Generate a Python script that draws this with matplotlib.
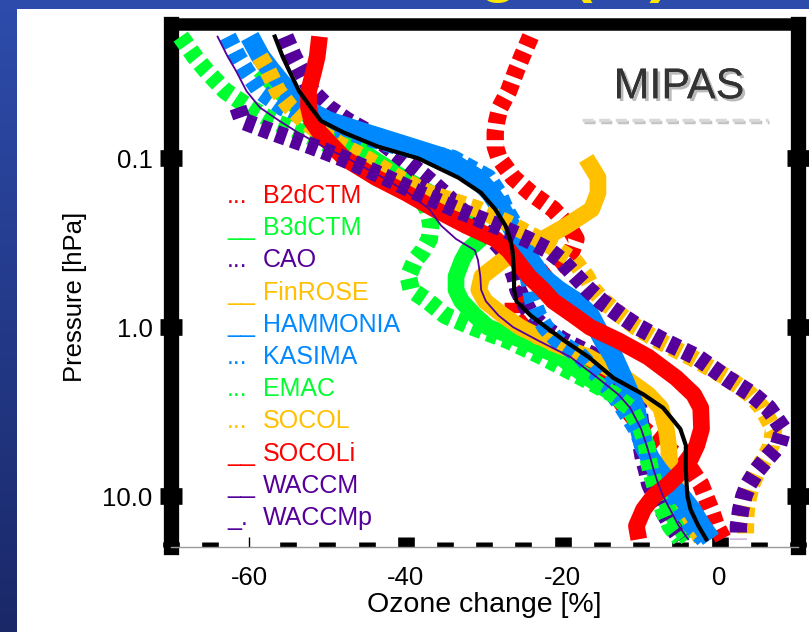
import numpy as np
import matplotlib
matplotlib.use("Agg")
import matplotlib.pyplot as plt
import matplotlib.patheffects as pe
from matplotlib.colors import LinearSegmentedColormap
from matplotlib.lines import Line2D
from matplotlib.patches import Rectangle
from matplotlib.ticker import MultipleLocator, NullLocator

SANS = ["Liberation Sans", "DejaVu Sans"]
plt.rcParams["font.family"] = SANS
plt.rcParams["axes.unicode_minus"] = False

RED, GREEN, PURPLE, GOLD, BLUE = "#ff0000", "#00ff2e", "#55009a", "#ffc000", "#0088ff"
nan = np.nan

pressure = [0.019, 0.025, 0.03, 0.04, 0.05, 0.06, 0.07, 0.085, 0.1, 0.13, 0.16,
            0.2, 0.25, 0.3, 0.35, 0.4, 0.5, 0.6, 0.7, 0.85, 1.0, 1.2, 1.5, 2.0,
            2.5, 3.0, 4.0, 5.0, 6.0, 7.0, 8.5, 10.0, 12.0, 15.0, 18.0]

# ozone change [%] per model
b2dctm = [-24.1, -25.2, -25.9, -26.9, -28.0, -28.4, -28.6, -28.6, -28.1, -26.3, -24.1,
          -21.2, -19.3, -18.3, -18.8, -19.9, -22.5, -24.6, -26.3, -26.3, -25.0, -22.5,
          -18.6, -14.8, -13.2, -12.0, -9.7, -7.2, -4.9, -3.6, -2.4, -1.8, -1.1, -0.4, 0.5]
b3dctm = [nan, nan, -58.6, -56.1, -53.8, -51.5, -49.3, -46.4, -44.2, -40.4, -36.9,
          -33.3, -31.0, -30.5, -32.1, -32.8, -33.6, -33.6, -32.9, -31.2, -29.5, -25.0,
          -20.3, -16.7, -13.5, -11.6, -10.0, -9.3, -8.8, -8.4, -7.8, -7.2, -6.4, -5.2, -4.0]
cao = [-55.4, -54.3, -53.4, -52.0, -49.9, -47.4, -44.8, -42.3, -40.4, -37.4, -35.2,
       -33.1, -30.8, -28.9, -27.6, -26.9, -26.1, -25.7, -25.0, -24.0, -22.5, -19.9,
       -15.7, -12.9, -11.2, -10.3, -10.0, -10.0, -9.7, -9.3, -8.9, -8.2, -7.3, -6.1, -4.9]
finrose = [nan, nan, nan, nan, nan, nan, nan, nan, -17.0, -15.5, -15.5,
           -16.3, -19.5, -22.5, -25.4, -27.6, -30.3, -30.7, -29.9, -27.6, -25.4, -22.1,
           -16.7, -12.0, -9.1, -7.5, -6.8, -6.5, -6.4, -6.1, -5.6, -5.0, -4.2, -3.3, -2.3]
hammonia = [-59.9, -58.5, -57.2, -55.0, -53.1, -49.9, -45.5, -39.7, -34.9, -31.0, -29.2,
            -27.8, -26.6, -25.7, -24.8, -24.1, -22.7, -20.6, -18.4, -16.5, -15.7, -14.8,
            -13.5, -12.3, -11.4, -10.7, -10.2, -9.7, -8.8, -7.8, -6.3, -4.9, -3.6, -2.3, -1.1]
kasima = [-62.7, -61.4, -60.4, -58.6, -55.7, -51.9, -47.4, -41.0, -34.0, -29.5, -28.2,
          -27.3, -26.1, -25.3, -24.8, -24.6, -24.4, -24.1, -23.8, -23.1, -22.2, -20.6,
          -17.6, -15.2, -13.5, -12.3, -10.6, -9.7, -8.8, -8.2, -7.2, -6.1, -5.0, -3.6, -2.0]
emac = [-68.7, -66.9, -65.5, -63.0, -59.9, -57.0, -53.4, -49.3, -45.8, -41.6, -38.7,
        -37.2, -36.8, -37.0, -37.8, -38.8, -39.7, -39.3, -37.2, -35.0, -31.4, -26.9,
        -22.5, -17.4, -13.5, -11.4, -10.0, -9.3, -9.1, -8.8, -8.3, -7.8, -7.2, -6.3, -5.0]
socol = [nan, -58.6, -57.6, -56.3, -54.7, -52.9, -51.0, -48.0, -45.1, -41.0, -37.2,
         -30.8, -26.3, -23.1, -20.6, -18.6, -17.0, -16.1, -14.8, -12.6, -10.6, -7.8,
         -3.7, 1.1, 3.9, 5.4, 6.9, 6.6, 5.7, 4.9, 4.1, 3.7, 3.4, 3.3, 3.3]
socoli = [-51.0, -51.3, -51.7, -52.4, -52.4, -52.0, -51.0, -49.3, -47.8, -43.8, -40.0,
          -36.3, -32.3, -28.6, -26.9, -25.9, -24.3, -22.5, -21.2, -18.6, -16.5, -12.9,
          -9.1, -5.5, -3.3, -2.4, -2.3, -2.9, -3.7, -4.7, -6.5, -8.4, -9.7, -10.6, -10.3]
waccm = [-64.0, -62.7, -61.7, -60.3, -58.6, -56.1, -53.8, -50.6, -47.4, -42.9, -39.7,
         -37.0, -35.5, -33.6, -31.2, -30.8, -30.5, -30.4, -29.8, -28.2, -26.3, -23.1,
         -19.0, -15.5, -12.9, -11.4, -10.0, -9.3, -8.8, -8.4, -7.8, -7.2, -6.3, -5.2, -4.0]
waccmp = [nan, nan, nan, nan, -61.4, -60.8, -57.0, -51.9, -48.0, -42.5, -38.4,
          -33.6, -28.5, -24.6, -21.8, -20.2, -18.3, -16.7, -15.1, -12.6, -10.3, -7.2,
          -2.9, 0.9, 4.2, 6.2, 8.1, 7.5, 6.0, 4.8, 3.7, 3.1, 2.7, 2.4, 2.4]
mipas = [-56.7, -55.7, -54.9, -53.6, -52.1, -50.8, -48.0, -43.6, -38.4, -33.3, -30.4,
         -28.6, -27.3, -26.7, -26.4, -26.3, -26.2, -26.2, -25.9, -24.1, -22.1, -19.8,
         -16.7, -13.5, -9.7, -7.2, -5.0, -4.3, -4.3, -4.3, -4.2, -4.1, -3.7, -2.7, -1.7]

model_names = ["B2dCTM", "B3dCTM", "CAO", "FinROSE", "HAMMONIA", "KASIMA",
               "EMAC", "SOCOL", "SOCOLi", "WACCM", "WACCMp"]
model_values = [b2dctm, b3dctm, cao, finrose, hammonia, kasima,
                emac, socol, socoli, waccm, waccmp]
model_colors = [RED, GREEN, PURPLE, GOLD, BLUE, BLUE, GREEN, GOLD, RED, PURPLE, PURPLE]
model_styles = ["dot", "solid", "dot", "solid", "wide", "dot",
                "dot", "dot", "solid", "thin", "dot"]
legend_marks = ["...", "__", "...", "__", "__", "...", "...", "...", "__", "__", "_."]

xticks = [-60, -40, -20, 0]
xticklabels = ["-60", "-40", "-20", "0"]
yticks = [0.1, 1.0, 10.0]
yticklabels = ["0.1", "1.0", "10.0"]

fig = plt.figure(figsize=(8.09, 6.32), dpi=100)

# slide background: blue frame with the white panel on top
bg = fig.add_axes([0, 0, 1, 1])
bg.set_axis_off()
slide = LinearSegmentedColormap.from_list("slide", ["#2d4cab", "#1a2868"])
bg.imshow(np.linspace(0, 1, 256)[:, None], cmap=slide, aspect="auto",
          extent=[0, 1, 0, 1], zorder=0)
bg.text(117 / 809, 1 + 10 / 632, "Ozone change (%)", color="#ffe800",
        fontsize=46, fontweight="bold", ha="left", va="baseline",
        transform=fig.transFigure, zorder=1)
bg.add_patch(Rectangle((17 / 809, 0), 1, 1 - 9 / 632, facecolor="white",
                       edgecolor="none", zorder=2))
bg.set_xlim(0, 1)
bg.set_ylim(0, 1)

ax = fig.add_axes([170.5 / 809, 85 / 632, 627.5 / 809, 523 / 632])
ax.set_facecolor("none")

for i, (vals, col, sty) in enumerate(zip(model_values, model_colors, model_styles)):
    if sty == "dot":
        ax.plot(vals, pressure, color=col, lw=12.5, dashes=(0.6, 0.36),
                solid_capstyle="butt", zorder=2 + i * 0.1)
    elif sty == "thin":
        ax.plot(vals, pressure, color=col, lw=1.3, zorder=2 + i * 0.1)
    elif sty == "wide":
        ax.plot(vals, pressure, color=col, lw=14, solid_capstyle="butt",
                solid_joinstyle="round", zorder=2 + i * 0.1)
    else:
        ax.plot(vals, pressure, color=col, lw=12, solid_capstyle="butt",
                solid_joinstyle="round", zorder=2 + i * 0.1)
ax.plot(mipas, pressure, color="black", lw=3, zorder=4)

ax.set_xlim(-70, 10)
ax.set_yscale("log")
ax.set_ylim(20, 0.016)
ax.set_xticks(xticks, labels=xticklabels)
ax.xaxis.set_minor_locator(MultipleLocator(5))
ax.set_yticks(yticks, labels=yticklabels)
ax.yaxis.set_minor_locator(NullLocator())

ax.tick_params(axis="x", which="major", direction="in", length=7.5, width=12,
               top=True, bottom=True, pad=14, labelsize=18.5)
ax.tick_params(axis="x", which="minor", direction="in", length=3.6, width=12,
               top=False, bottom=True)
ax.tick_params(axis="y", which="major", direction="inout", length=16, width=12,
               left=True, right=True, pad=5, labelsize=18.5)
for t in ax.xaxis.get_major_ticks():
    t.tick2line.set_markersize(3)
ax.xaxis.get_major_ticks()[0].tick1line.set_markeredgewidth(1.0)

for side in ("left", "right"):
    ax.spines[side].set_linewidth(11)
ax.spines["top"].set_linewidth(9)
ax.spines["bottom"].set_linewidth(1.0)
ax.spines["bottom"].set_color("#9a9a9a")

ax.set_xlabel("Ozone change [%]", fontsize=20.5, va="center")
ax.xaxis.set_label_coords(484 / 809, 1 - 605 / 632, transform=fig.transFigure)
ax.set_ylabel("Pressure [hPa]", fontsize=18.5, va="center")
ax.yaxis.set_label_coords(75 / 809, 1 - 297 / 632, transform=fig.transFigure)

# legend written as coloured text, as in the original
for k, (name, col, mark) in enumerate(zip(model_names, model_colors, legend_marks)):
    yb = (547 - (203 + 32.2 * k)) / 523
    ax.text(0.090, yb, mark, color=col, fontsize=18, va="baseline", ha="left",
            transform=ax.transAxes, zorder=6)
    ax.text(0.1474, yb, name, color=col, fontsize=18, va="baseline", ha="left",
            transform=ax.transAxes, zorder=6)

shadow = [pe.withSimplePatchShadow(offset=(2, -2), shadow_rgbFace="#777777", alpha=0.5),
          pe.Normal()]
ax.text(0.810, 0.858, "MIPAS", fontsize=31, color="#333333", ha="center",
        va="baseline", transform=ax.transAxes, zorder=6, path_effects=shadow)
ax.add_line(Line2D([0.656, 0.952], [0.816, 0.816], transform=ax.transAxes,
                   color="#d8d8d8", lw=2.5, dashes=(3.2, 1.6), zorder=6,
                   path_effects=[pe.SimpleLineShadow(offset=(1, -1.5), shadow_color="#888888",
                                                     alpha=0.5), pe.Normal()]))

fig.savefig("out.png", dpi=100)
